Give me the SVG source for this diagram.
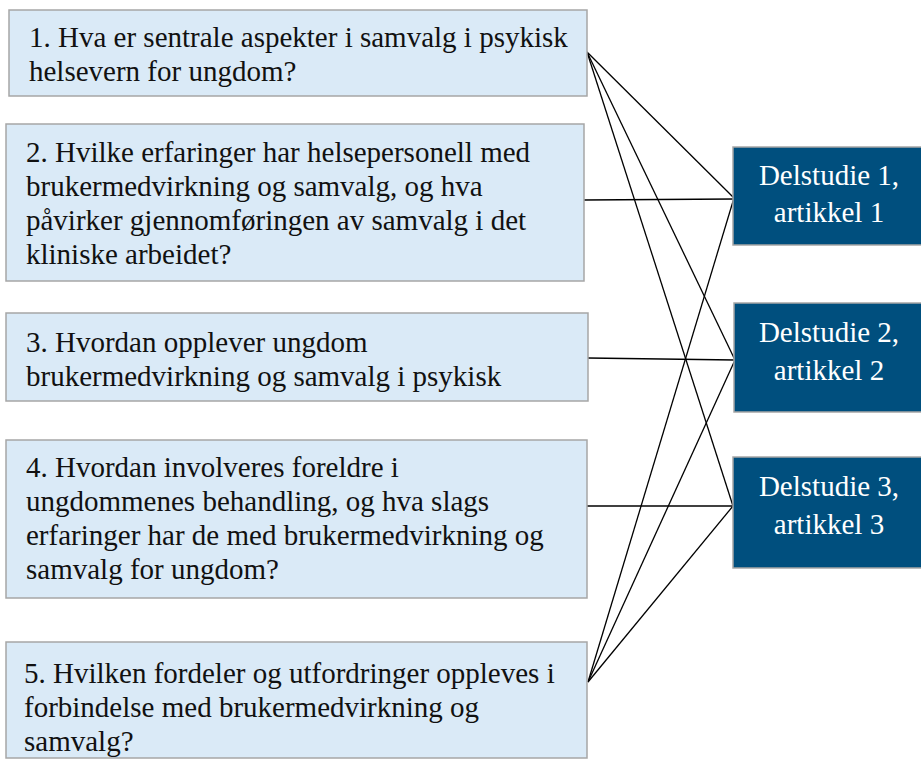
<svg xmlns="http://www.w3.org/2000/svg" width="921" height="760" viewBox="0 0 921 760">
  <style>
    .q rect { fill: #DAEAF7; stroke: #A6A6A6; stroke-width: 1.5; }
    .q text { font-family: "Liberation Serif", "Times New Roman", serif; font-size: 29px; fill: #111; }
    .d rect { fill: #004F7E; stroke: #A6A6A6; stroke-width: 1.5; }
    .d text { font-family: "Liberation Serif", "Times New Roman", serif; font-size: 29px; fill: #FFFFFF; text-anchor: middle; }
    #links line { stroke: #000; stroke-width: 1.3; }
  </style>
  <rect width="921" height="760" fill="#FFFFFF"/>

  <g id="links">
    <line x1="587" y1="52" x2="734" y2="198"/>
    <line x1="587" y1="52" x2="735" y2="360"/>
    <line x1="587" y1="52" x2="733" y2="506"/>
    <line x1="584" y1="200" x2="734" y2="199"/>
    <line x1="588" y1="358" x2="735" y2="360"/>
    <line x1="587" y1="506" x2="733" y2="506"/>
    <line x1="588" y1="682" x2="734" y2="198"/>
    <line x1="588" y1="682" x2="735" y2="360"/>
    <line x1="588" y1="682" x2="733" y2="506"/>
  </g>

  <g id="q1" class="q">
    <rect x="9" y="10" width="578" height="86"/>
    <text x="29" y="47">1. Hva er sentrale aspekter i samvalg i psykisk</text>
    <text x="29" y="81">helsevern for ungdom?</text>
  </g>

  <g id="q2" class="q">
    <rect x="6" y="124" width="578" height="157"/>
    <text x="26" y="162">2. Hvilke erfaringer har helsepersonell med</text>
    <text x="26" y="196">brukermedvirkning og samvalg, og hva</text>
    <text x="26" y="230">påvirker gjennomføringen av samvalg i det</text>
    <text x="26" y="264">kliniske arbeidet?</text>
  </g>

  <g id="q3" class="q">
    <rect x="6" y="313" width="582" height="88"/>
    <text x="26" y="352">3. Hvordan opplever ungdom</text>
    <text x="26" y="386">brukermedvirkning og samvalg i psykisk</text>
  </g>

  <g id="q4" class="q">
    <rect x="6" y="440" width="581" height="158"/>
    <text x="26" y="477">4. Hvordan involveres foreldre i</text>
    <text x="26" y="511">ungdommenes behandling, og hva slags</text>
    <text x="26" y="545">erfaringer har de med brukermedvirkning og</text>
    <text x="26" y="579">samvalg for ungdom?</text>
  </g>

  <g id="q5" class="q">
    <rect x="6" y="642" width="581" height="116"/>
    <text x="24" y="683">5. Hvilken fordeler og utfordringer oppleves i</text>
    <text x="24" y="717">forbindelse med brukermedvirkning og</text>
    <text x="24" y="751">samvalg?</text>
  </g>

  <g id="d1" class="d">
    <rect x="733" y="147" width="190" height="98"/>
    <text x="829" y="185">Delstudie 1,</text>
    <text x="829" y="222">artikkel 1</text>
  </g>

  <g id="d2" class="d">
    <rect x="734" y="303" width="189" height="109"/>
    <text x="829" y="342">Delstudie 2,</text>
    <text x="829" y="380">artikkel 2</text>
  </g>

  <g id="d3" class="d">
    <rect x="733" y="457" width="190" height="111"/>
    <text x="829" y="496">Delstudie 3,</text>
    <text x="829" y="534">artikkel 3</text>
  </g>
</svg>
